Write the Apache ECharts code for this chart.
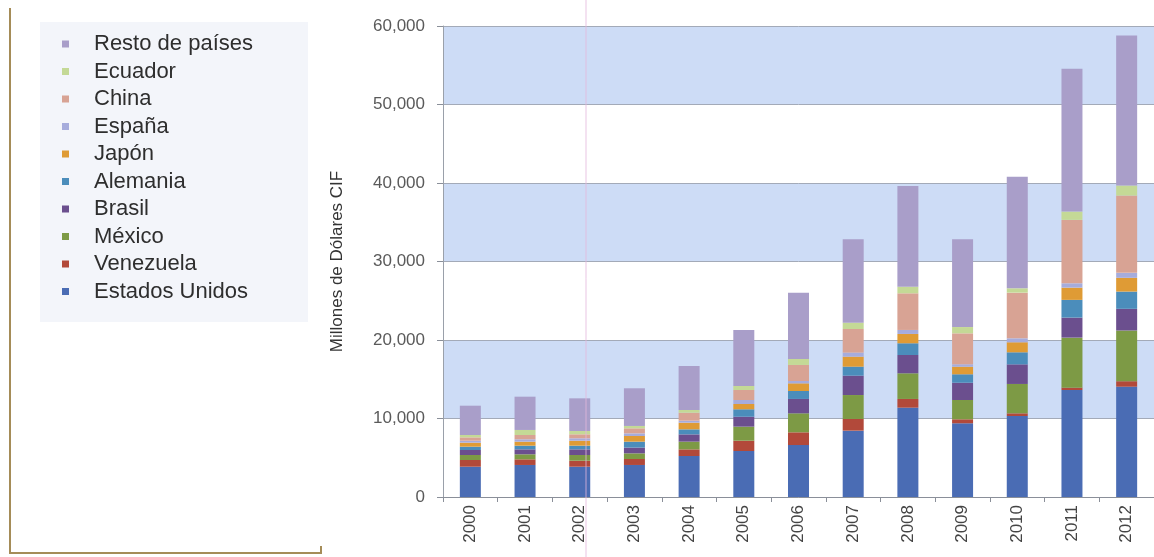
<!DOCTYPE html>
<html>
<head>
<meta charset="utf-8">
<script src="https://cdn.jsdelivr.net/npm/echarts@6/dist/echarts.min.js"></script>
<style>
  html, body { margin: 0; padding: 0; background: #ffffff; }
  #chart { width: 1154px; height: 557px; }
</style>
</head>
<body>
<div id="chart"></div>
<script>
// Importaciones por país de origen, millones de dólares CIF
const years = ['2000','2001','2002','2003','2004','2005','2006','2007','2008','2009','2010','2011','2012'];

const estadosUnidos = [3860, 4080, 3860, 4080, 5220, 5860, 6620, 8450, 11380, 9390, 10320, 13630, 14050];
const venezuela     = [850, 720, 760, 760, 850, 1310, 1620, 1490, 1110, 510, 340, 300, 700];
const mexico        = [640, 640, 730, 720, 980, 1790, 2420, 3050, 3270, 2460, 3740, 6370, 6460];
const brasil        = [640, 630, 720, 730, 930, 1270, 1830, 2470, 2330, 2200, 2500, 2550, 2760];
const alemania      = [420, 470, 470, 760, 640, 940, 1010, 1140, 1490, 1070, 1530, 2260, 2200];
const japon         = [510, 510, 630, 720, 850, 680, 980, 1280, 1190, 970, 1280, 1560, 1750];
const espana        = [250, 300, 310, 340, 250, 510, 300, 510, 510, 300, 510, 560, 640];
const china         = [430, 550, 510, 640, 1020, 1270, 2040, 3010, 4670, 3950, 5810, 8070, 9840];
const ecuador       = [300, 640, 420, 300, 340, 510, 760, 810, 840, 800, 560, 1060, 1280];
const restoPaises   = [3730, 4240, 4160, 4800, 5610, 7140, 8450, 10620, 12830, 11170, 14220, 18180, 19110];

const seriesNames  = ['Estados Unidos', 'Venezuela', 'México', 'Brasil', 'Alemania', 'Japón', 'España', 'China', 'Ecuador', 'Resto de países'];
const seriesValues = [estadosUnidos, venezuela, mexico, brasil, alemania, japon, espana, china, ecuador, restoPaises];
const seriesColors = ['#4a6cb4', '#b2493a', '#7d9a45', '#6b4f8e', '#4b8dbb', '#df9b35', '#a6acdc', '#d8a394', '#c4d996', '#a99ec9'];

const yTicks = [0, 10000, 20000, 30000, 40000, 50000, 60000];

const chart = echarts.init(document.getElementById('chart'), null, { renderer: 'canvas' });

const series = seriesNames.map((name, i) => ({
  name: name,
  type: 'bar',
  stack: 'total',
  barWidth: 21,
  data: seriesValues[i],
  itemStyle: { color: seriesColors[i] },
  emphasis: { disabled: true }
}));

chart.setOption({
  animation: false,
  backgroundColor: '#ffffff',
  textStyle: { fontFamily: 'Liberation Sans, Arial, sans-serif' },
  graphic: [
    // marco de la leyenda
    { type: 'rect', z: -10, shape: { x: 40, y: 22, width: 268, height: 300 }, style: { fill: '#f3f5fa' } },
    // línea de encuadre izquierda e inferior
    { type: 'polyline', z: 1, shape: { points: [[10, 8], [10, 553], [321, 553], [321, 546]] },
      style: { stroke: '#a58c58', lineWidth: 2, fill: null } },
    // línea vertical fina
    { type: 'line', z: 50, shape: { x1: 586, y1: 0, x2: 586, y2: 557 },
      style: { stroke: '#e4b6dc', lineWidth: 1, opacity: 0.8 } }
  ],
  legend: {
    orient: 'vertical',
    left: 62,
    top: 33,
    padding: 0,
    itemWidth: 7,
    itemHeight: 7,
    itemGap: 5.5,
    icon: 'rect',
    selectedMode: false,
    data: seriesNames.slice().reverse(),
    textStyle: { fontSize: 22, lineHeight: 22, color: '#2e2e2e', padding: [0, 0, 0, 20] }
  },
  grid: { left: 443, right: 0, top: 26, bottom: 60, containLabel: false },
  xAxis: {
    type: 'category',
    data: years,
    axisLine: { lineStyle: { color: '#8a8f99', width: 1 } },
    axisTick: { show: true, length: 5, lineStyle: { color: '#8a8f99' } },
    axisLabel: { rotate: 90, fontSize: 17, color: '#444444', margin: 8 }
  },
  yAxis: {
    type: 'value',
    min: yTicks[0],
    max: yTicks[yTicks.length - 1],
    interval: 10000,
    name: 'Millones de Dólares CIF',
    nameLocation: 'middle',
    nameGap: 97,
    nameTextStyle: { fontSize: 17, color: '#333333' },
    axisLine: { show: true, lineStyle: { color: '#9aa0aa', width: 1 } },
    axisTick: { show: true, length: 6, lineStyle: { color: '#8a8f99' } },
    axisLabel: {
      fontSize: 17, color: '#5a5a5a', margin: 18,
      formatter: v => v.toLocaleString('en-US')
    },
    splitLine: { show: true, lineStyle: { color: '#a3aab8', width: 1 } },
    splitArea: { show: true, areaStyle: { color: ['#ffffff', '#cddcf6'] } }
  },
  series: series
});
</script>
</body>
</html>
